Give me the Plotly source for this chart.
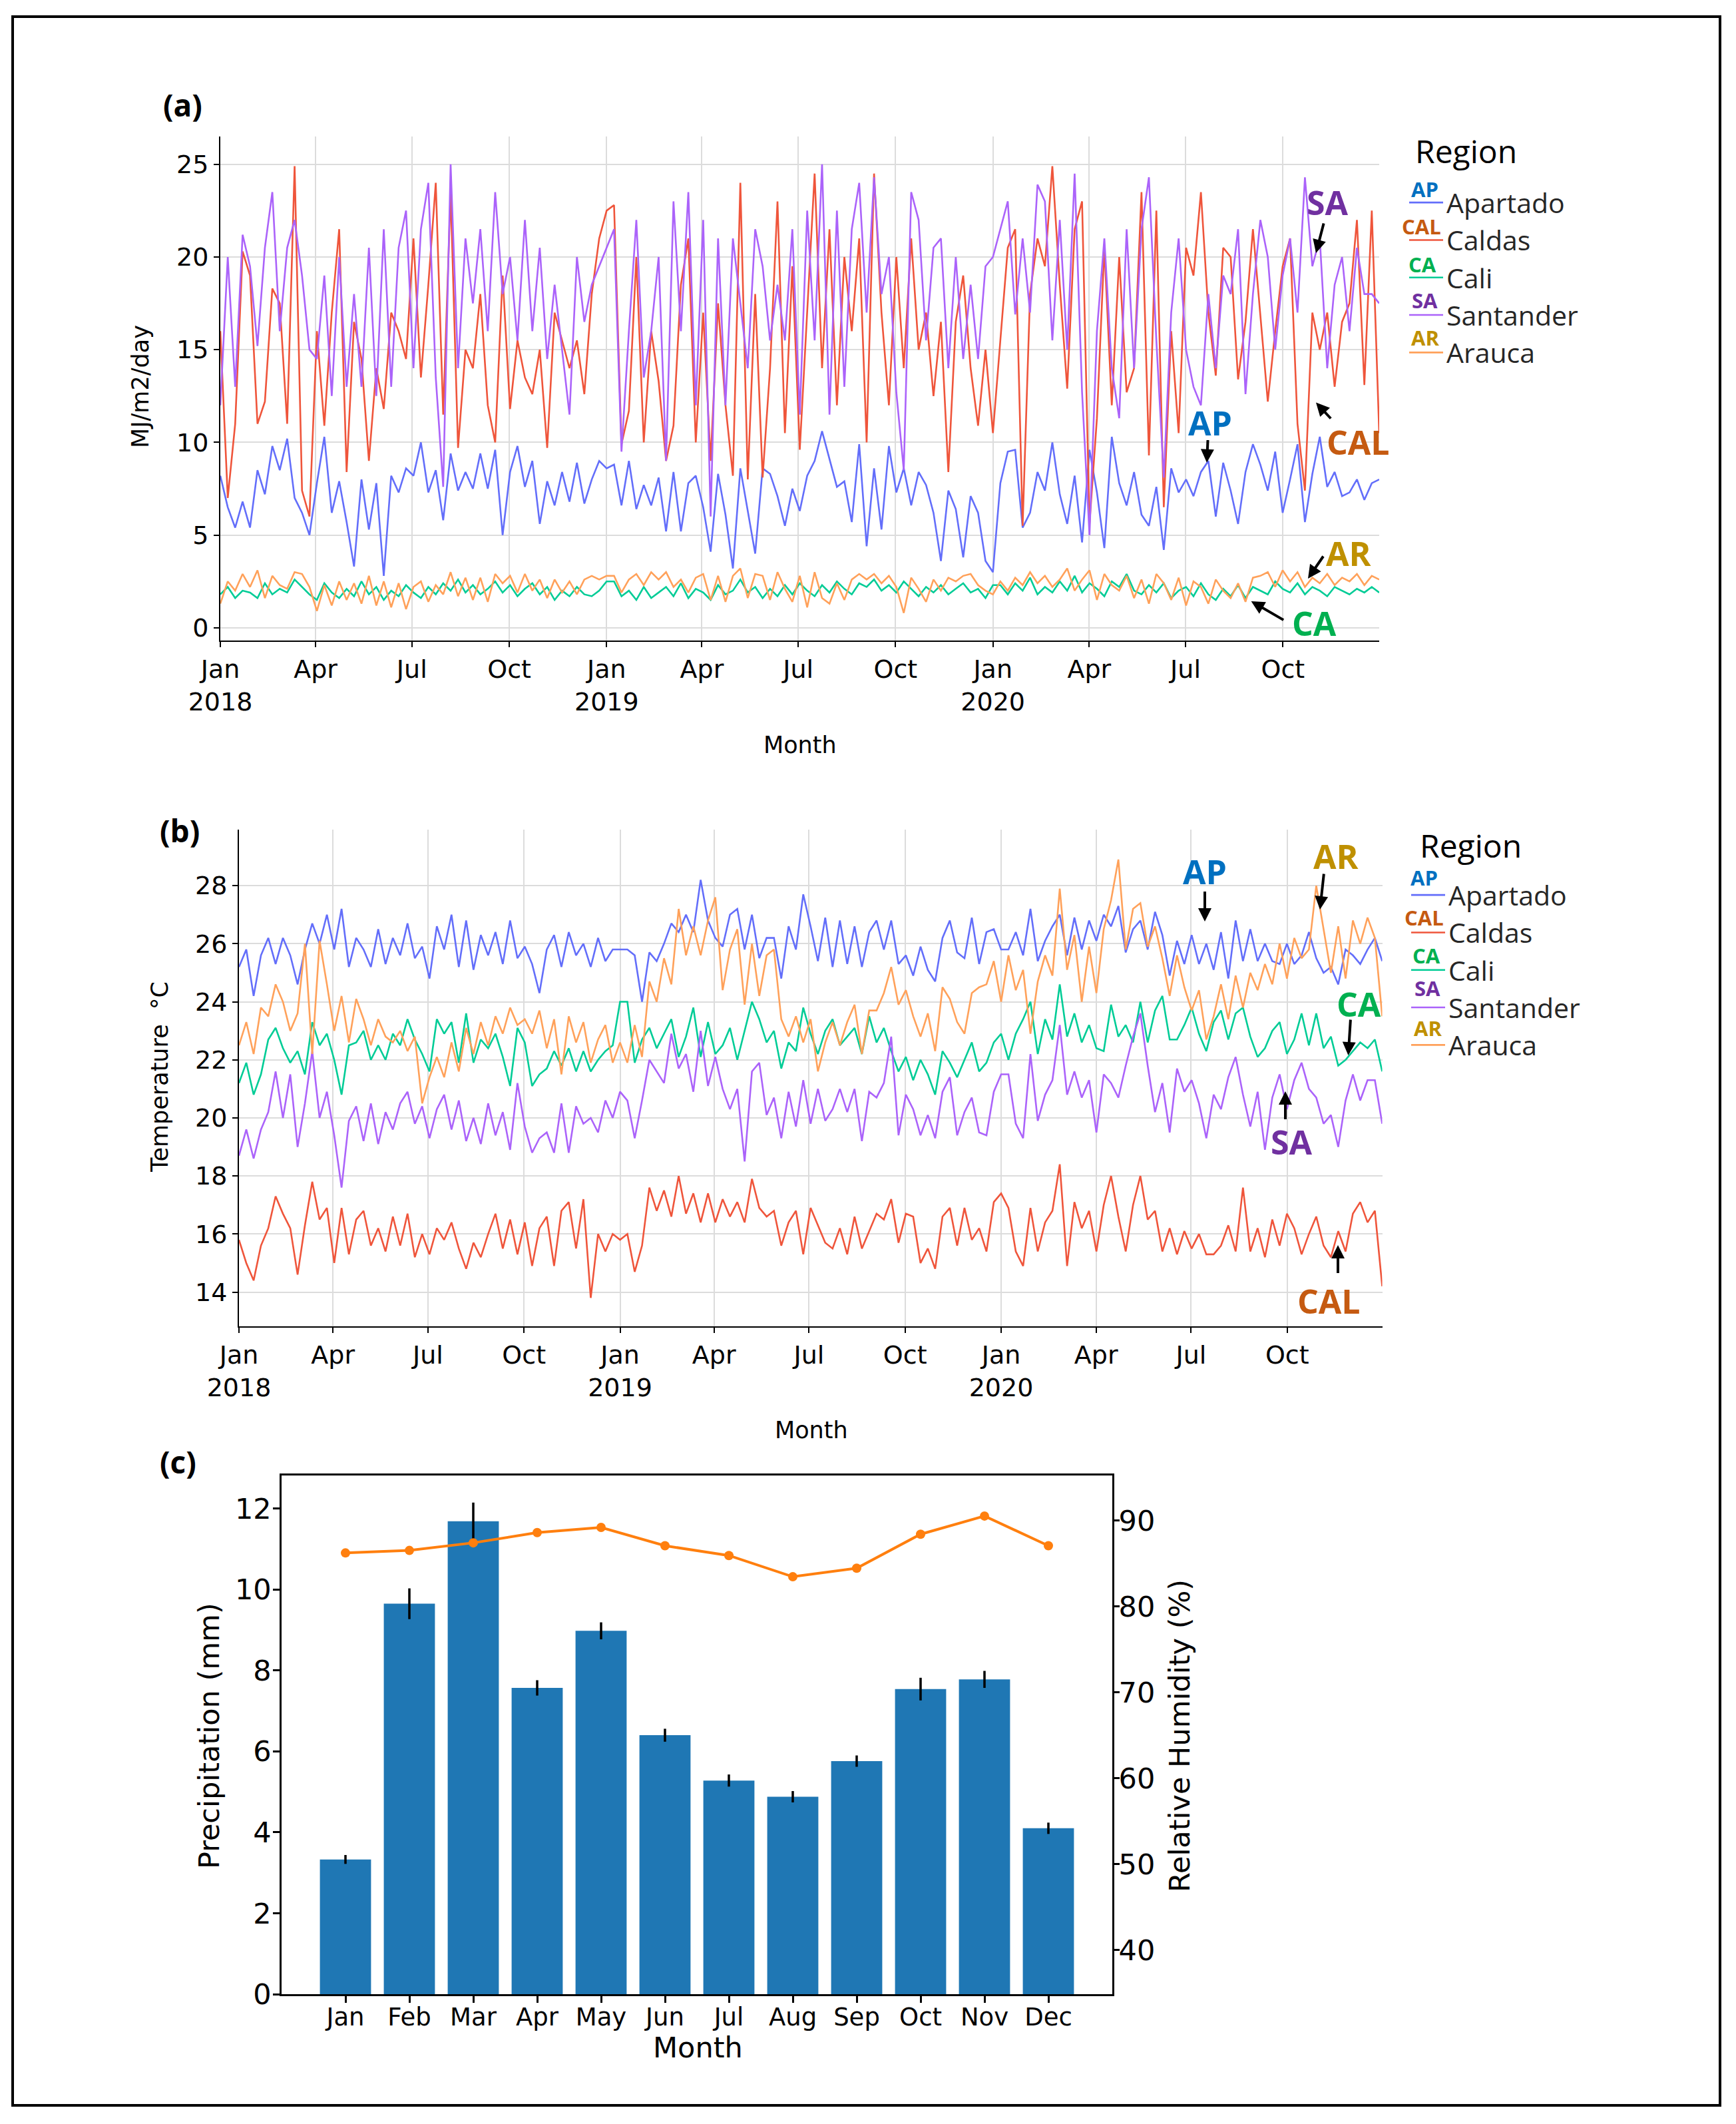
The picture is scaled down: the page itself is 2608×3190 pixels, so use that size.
import pandas as pd
import plotly.graph_objects as go

W, H = 2608, 3190
OFF = 8                      # the page body adds an 8px margin; compensate for it
FW, FH = W - OFF, H - OFF


def px(x):
    return (x - OFF) / FW


def py(y):
    return 1 - (y - OFF) / FH


# ---------------- data -----------------
regions = ["Apartado", "Caldas", "Cali", "Santander", "Arauca"]
line_colors = ["#636EFA", "#EF553B", "#00CC96", "#AB63FA", "#FFA15A"]
abbrevs = ["AP", "CAL", "CA", "SA", "AR"]
abbrev_colors = ["#0070C0", "#C55A11", "#00B050", "#7030A0", "#BF9000"]

# (a) solar radiation, MJ/m2/day, approx. weekly readings 2018-2020
ap_rad_2018 = [8.2, 6.5, 5.4, 6.8, 5.4, 8.5, 7.2, 9.8, 8.5, 10.2, 7.0, 6.2, 5.0, 7.8, 10.3, 6.2, 7.9, 5.7, 3.3, 8.0, 5.3, 7.8, 2.8, 8.2, 7.3, 8.6, 8.2, 10.0, 7.3, 8.5, 5.8, 9.4, 7.4, 8.4, 7.5, 9.4, 7.5, 9.6, 5.0, 8.4, 9.8, 7.6, 9.0, 5.6, 7.9, 6.6, 8.4, 6.8, 8.9, 6.7, 8.0, 9.0, 8.6]
ap_rad_2019 = [8.8, 6.6, 9.0, 6.4, 7.7, 6.6, 8.1, 5.2, 8.4, 5.2, 7.8, 8.2, 6.5, 4.1, 8.3, 6.1, 3.2, 8.6, 6.3, 4.0, 8.6, 8.3, 7.1, 5.5, 7.5, 6.3, 8.2, 9.0, 10.6, 9.1, 7.6, 7.9, 5.7, 9.9, 4.4, 8.6, 5.3, 9.8, 7.3, 8.6, 6.6, 8.4, 7.7, 6.2, 3.6, 7.4, 6.4, 3.8, 7.1, 6.2, 3.6, 3.0]
ap_rad_2020 = [7.8, 9.5, 9.6, 5.4, 6.2, 8.4, 7.4, 10.0, 7.2, 5.6, 8.2, 4.6, 9.6, 7.3, 4.3, 10.3, 7.8, 6.6, 8.4, 6.1, 5.5, 7.6, 4.2, 8.6, 7.3, 8.0, 7.1, 8.4, 9.0, 6.0, 8.9, 7.4, 5.6, 8.4, 9.9, 8.8, 7.4, 9.5, 6.2, 8.0, 9.9, 5.7, 8.3, 10.3, 7.6, 8.4, 7.1, 7.3, 8.0, 6.9, 7.8, 8.0]

cal_rad_2018 = [16.0, 7.0, 11.0, 20.3, 19.0, 11.0, 12.2, 18.3, 17.5, 11.0, 24.9, 7.4, 6.0, 16.0, 10.9, 17.0, 21.5, 8.4, 16.5, 14.5, 9.0, 14.0, 11.8, 17.0, 16.0, 14.5, 21.0, 13.5, 18.5, 24.0, 11.5, 23.5, 9.7, 15.0, 14.0, 18.0, 12.0, 10.0, 19.0, 11.8, 15.5, 13.5, 12.6, 15.0, 9.7, 17.0, 15.5, 14.0, 15.5, 12.6, 18.0, 21.0, 22.5]
cal_rad_2019 = [22.8, 9.9, 11.7, 20.0, 10.0, 16.0, 13.3, 9.0, 10.9, 18.5, 21.0, 10.0, 17.0, 9.0, 17.5, 12.0, 8.2, 24.0, 8.0, 18.0, 8.1, 14.0, 23.0, 10.5, 19.5, 9.6, 17.0, 24.5, 14.0, 21.5, 12.0, 20.0, 16.0, 21.0, 10.0, 24.5, 17.0, 12.0, 20.0, 14.0, 21.0, 15.0, 17.0, 12.5, 16.5, 8.4, 16.5, 19.0, 14.0, 10.9, 15.0, 10.5]
cal_rad_2020 = [15.5, 20.5, 21.5, 5.5, 18.0, 21.0, 19.5, 24.9, 18.5, 12.9, 21.5, 23.0, 5.6, 11.3, 20.5, 12.0, 20.0, 12.7, 14.0, 23.5, 9.3, 22.5, 6.5, 16.0, 10.5, 20.5, 19.0, 23.5, 17.0, 13.6, 20.5, 20.0, 13.4, 16.5, 21.5, 17.0, 12.2, 16.0, 19.5, 21.0, 11.0, 7.4, 17.0, 15.0, 17.0, 13.0, 16.5, 17.5, 22.0, 13.1, 22.5, 10.5]

ca_rad_2018 = [1.8, 2.2, 1.6, 2.0, 1.9, 1.6, 2.4, 1.8, 2.1, 1.9, 2.6, 2.2, 1.8, 1.5, 2.4, 1.9, 1.6, 2.1, 1.7, 2.5, 1.8, 2.2, 1.5, 2.0, 1.7, 2.3, 1.9, 1.6, 2.2, 1.8, 2.4, 2.0, 2.6, 1.9, 2.3, 1.8, 2.1, 2.5, 1.9, 2.3, 1.7, 2.1, 2.4, 1.8, 2.2, 1.5, 2.0, 1.7, 2.2, 1.8, 1.7, 2.0, 2.5]
ca_rad_2019 = [2.5, 1.7, 2.0, 1.5, 2.2, 1.6, 1.9, 2.2, 1.7, 2.4, 1.6, 2.1, 1.9, 1.5, 2.3, 1.8, 2.0, 2.6, 1.9, 2.2, 1.6, 2.1, 1.7, 2.3, 1.8, 2.4, 2.0, 1.7, 2.3, 1.9, 2.5, 2.1, 1.8, 2.4, 2.2, 2.6, 2.0, 2.3, 1.9, 2.5, 2.1, 1.7, 2.2, 1.9, 2.3, 1.8, 2.1, 2.4, 1.9, 2.1, 1.6, 2.3]
ca_rad_2020 = [2.3, 1.8, 2.4, 2.0, 2.7, 1.8, 2.2, 1.9, 2.5, 2.0, 2.8, 1.9, 2.4, 2.1, 1.7, 2.5, 2.2, 2.9, 2.0, 1.8, 2.3, 1.9, 2.4, 1.6, 2.0, 2.2, 1.7, 2.4, 1.8, 1.5, 2.1, 1.7, 2.3, 1.6, 2.2, 2.0, 1.8, 2.5, 2.1, 1.9, 2.4, 1.8, 2.2, 2.0, 1.7, 2.2, 2.0, 1.8, 2.1, 1.9, 2.2, 1.9]

sa_rad_2018 = [12.0, 20.0, 13.0, 21.2, 19.5, 15.2, 20.5, 23.5, 16.0, 20.5, 22.0, 19.0, 15.0, 14.5, 19.0, 12.5, 20.0, 13.0, 18.0, 13.0, 20.5, 12.5, 21.5, 13.0, 20.5, 22.5, 14.0, 21.5, 24.0, 13.5, 7.6, 25.0, 14.0, 21.0, 17.5, 21.5, 16.0, 23.5, 18.0, 20.0, 15.5, 22.0, 16.0, 20.5, 14.5, 18.5, 15.0, 11.5, 20.0, 16.5, 18.5, 19.5, 20.5]
sa_rad_2019 = [21.5, 9.5, 16.0, 22.0, 13.5, 16.0, 20.0, 9.0, 23.0, 16.0, 23.5, 12.0, 22.0, 6.0, 21.0, 12.0, 21.0, 17.5, 14.0, 21.5, 19.5, 15.5, 18.5, 15.5, 21.5, 11.5, 22.5, 15.5, 25.0, 11.5, 22.5, 13.0, 21.5, 24.0, 17.0, 24.3, 18.0, 20.0, 12.7, 8.5, 23.5, 22.0, 15.5, 20.5, 21.0, 14.0, 20.0, 14.5, 18.5, 14.5, 19.5, 20.0]
sa_rad_2020 = [21.5, 23.0, 16.9, 21.0, 17.0, 23.9, 23.0, 15.5, 22.0, 15.0, 24.5, 12.7, 5.0, 16.0, 21.0, 14.0, 11.3, 21.5, 14.0, 21.5, 24.3, 15.5, 8.1, 17.0, 21.0, 15.0, 13.0, 12.0, 18.0, 14.0, 19.0, 18.0, 21.5, 12.6, 18.0, 22.0, 20.0, 15.0, 19.0, 21.0, 17.0, 24.3, 19.5, 21.0, 14.0, 18.5, 20.0, 16.0, 20.5, 18.0, 18.0, 17.5]

ar_rad_2018 = [1.3, 2.5, 2.0, 2.9, 2.2, 3.1, 1.6, 2.8, 2.3, 2.1, 3.0, 2.9, 2.2, 0.9, 2.3, 1.2, 2.5, 1.5, 2.4, 1.3, 2.8, 1.2, 2.5, 1.1, 2.4, 1.0, 2.2, 2.5, 1.4, 2.3, 1.8, 3.0, 1.7, 2.7, 1.5, 2.7, 1.4, 2.9, 2.4, 2.8, 1.9, 2.9, 2.0, 2.6, 1.6, 2.6, 1.9, 2.5, 1.8, 2.6, 2.8, 2.6, 2.8]
ar_rad_2019 = [2.8, 1.9, 2.6, 2.9, 2.3, 3.0, 2.6, 3.0, 2.2, 2.6, 1.9, 2.7, 2.9, 1.5, 2.8, 1.4, 2.8, 3.2, 1.6, 2.9, 2.8, 1.5, 3.0, 2.1, 1.4, 2.8, 1.1, 3.0, 1.6, 1.3, 2.4, 1.5, 2.6, 2.9, 2.6, 2.9, 2.4, 2.8, 2.2, 0.8, 2.7, 2.1, 1.4, 2.6, 2.0, 2.7, 2.5, 2.8, 2.9, 2.3, 2.0, 1.8]
ar_rad_2020 = [2.5, 2.0, 2.7, 2.3, 3.0, 2.4, 2.8, 2.2, 2.6, 3.2, 2.0, 2.6, 3.1, 1.5, 2.9, 2.3, 2.0, 2.8, 1.6, 2.6, 1.3, 2.9, 2.4, 1.5, 2.7, 1.2, 2.5, 2.2, 1.3, 2.6, 2.0, 1.6, 2.4, 1.4, 2.7, 2.8, 3.0, 2.2, 3.1, 2.5, 3.0, 2.2, 2.7, 2.4, 2.9, 2.3, 2.7, 2.5, 2.9, 2.3, 2.8, 2.6]

# (b) temperature, deg C, approx. weekly readings 2018-2020
ap_temp_2018 = [25.2, 25.8, 24.2, 25.6, 26.2, 25.3, 26.2, 25.6, 24.6, 25.8, 26.7, 26.0, 27.0, 25.8, 27.2, 25.2, 26.2, 25.8, 25.2, 26.5, 25.3, 26.2, 25.6, 26.7, 25.5, 25.9, 24.8, 26.6, 25.8, 27.0, 25.2, 26.8, 25.1, 26.3, 25.6, 26.4, 25.3, 26.8, 25.5, 25.9, 25.3, 24.3, 25.8, 26.3, 25.2, 26.4, 25.6, 26.0, 25.2, 26.2, 25.4, 25.8, 25.8]
ap_temp_2019 = [25.8, 25.6, 24.0, 25.7, 25.4, 26.0, 26.7, 26.4, 27.0, 26.4, 28.2, 26.8, 26.2, 25.9, 27.0, 27.2, 25.8, 27.0, 25.5, 26.2, 26.2, 24.8, 26.6, 25.8, 27.7, 26.6, 25.4, 26.9, 25.2, 26.8, 25.3, 26.6, 25.2, 26.4, 26.8, 25.8, 26.8, 25.3, 25.6, 24.9, 25.9, 25.1, 24.7, 26.2, 26.8, 25.7, 25.5, 26.9, 25.3, 26.4, 26.5, 25.8]
ap_temp_2020 = [25.8, 26.4, 25.6, 27.2, 25.4, 26.1, 26.6, 27.0, 25.6, 26.9, 25.8, 26.8, 26.1, 27.0, 26.6, 27.3, 25.7, 26.5, 26.8, 25.8, 27.1, 26.3, 24.9, 26.1, 25.3, 26.3, 25.3, 26.0, 25.1, 26.4, 24.8, 26.8, 25.4, 26.5, 25.4, 26.0, 25.4, 25.3, 26.0, 25.3, 25.6, 26.4, 25.5, 25.0, 25.2, 24.6, 25.8, 25.6, 25.3, 25.8, 26.2, 25.4]

cal_temp_2018 = [15.8, 15.0, 14.4, 15.6, 16.2, 17.3, 16.7, 16.2, 14.6, 16.3, 17.8, 16.5, 16.9, 15.0, 16.9, 15.3, 16.5, 16.8, 15.6, 16.2, 15.4, 16.6, 15.6, 16.7, 15.2, 16.0, 15.3, 16.2, 15.8, 16.4, 15.5, 14.8, 15.7, 15.2, 16.0, 16.7, 15.5, 16.5, 15.3, 16.4, 14.9, 16.2, 16.6, 14.9, 16.8, 17.1, 15.5, 17.2, 13.8, 16.0, 15.4, 16.0, 15.8]
cal_temp_2019 = [16.0, 14.7, 15.6, 17.6, 16.8, 17.5, 16.6, 18.0, 16.7, 17.4, 16.4, 17.4, 16.4, 17.2, 16.6, 17.1, 16.4, 17.9, 16.9, 16.6, 16.8, 15.6, 16.4, 16.8, 15.3, 16.9, 16.3, 15.7, 15.5, 16.2, 15.3, 16.6, 15.5, 16.1, 16.7, 16.5, 17.2, 15.7, 16.7, 16.6, 15.0, 15.5, 14.8, 16.6, 16.9, 15.6, 16.9, 15.8, 16.2, 15.4, 17.1, 17.4]
cal_temp_2020 = [16.9, 15.4, 14.9, 16.9, 15.4, 16.4, 16.8, 18.4, 14.9, 17.1, 16.2, 16.8, 15.4, 17.0, 18.0, 16.6, 15.4, 17.0, 18.0, 16.5, 16.8, 15.4, 16.2, 15.3, 16.1, 15.5, 16.0, 15.3, 15.3, 15.6, 16.3, 15.4, 17.6, 15.4, 16.2, 15.2, 16.5, 15.6, 16.7, 16.2, 15.3, 16.0, 16.6, 15.6, 15.2, 16.1, 15.4, 16.7, 17.1, 16.4, 16.8, 14.2]

ca_temp_2018 = [21.2, 21.9, 20.8, 21.5, 22.7, 23.1, 22.4, 21.9, 22.3, 21.5, 23.3, 22.5, 22.9, 22.0, 20.8, 22.5, 22.6, 23.0, 22.0, 22.5, 22.0, 22.9, 22.5, 23.4, 22.7, 22.2, 21.6, 23.4, 22.9, 23.3, 21.9, 23.6, 21.9, 22.7, 22.4, 22.9, 22.1, 21.1, 23.1, 22.6, 21.1, 21.5, 21.7, 22.3, 21.8, 22.4, 21.6, 22.3, 21.6, 22.0, 22.3, 22.5, 24.0]
ca_temp_2019 = [24.0, 21.9, 22.7, 23.1, 22.4, 22.9, 23.4, 22.1, 22.8, 23.8, 22.1, 23.3, 22.2, 22.5, 23.1, 22.0, 23.0, 24.0, 23.4, 22.6, 23.0, 21.7, 22.6, 22.3, 23.8, 22.9, 22.2, 23.0, 23.4, 22.5, 22.8, 23.1, 22.2, 23.5, 22.6, 23.1, 22.3, 21.6, 22.1, 21.3, 22.0, 21.5, 20.8, 22.3, 21.9, 21.4, 22.0, 22.6, 21.6, 21.9, 22.6, 22.9]
ca_temp_2020 = [22.0, 22.9, 23.4, 24.0, 22.2, 23.4, 22.7, 24.6, 22.8, 23.6, 22.6, 23.2, 22.4, 22.3, 23.9, 22.8, 23.2, 22.6, 24.0, 22.6, 23.7, 24.2, 22.7, 22.7, 23.2, 23.8, 22.9, 22.3, 23.3, 23.7, 22.7, 23.6, 23.8, 22.8, 22.1, 22.4, 23.0, 23.3, 22.2, 22.7, 23.6, 22.5, 23.6, 22.4, 22.8, 21.8, 22.0, 22.3, 22.6, 22.4, 22.7, 21.6]

sa_temp_2018 = [18.7, 19.6, 18.6, 19.6, 20.2, 21.6, 20.0, 21.5, 19.0, 20.5, 22.3, 20.0, 20.9, 19.4, 17.6, 19.9, 20.4, 19.2, 20.5, 19.1, 20.2, 19.6, 20.5, 20.9, 19.8, 20.4, 19.3, 20.3, 20.8, 19.6, 20.6, 19.2, 20.0, 19.1, 20.5, 19.4, 20.2, 18.9, 21.2, 19.7, 18.8, 19.3, 19.5, 18.8, 20.5, 18.8, 20.4, 19.8, 20.0, 19.5, 20.6, 20.0, 20.9]
sa_temp_2019 = [20.6, 19.3, 20.6, 22.0, 21.6, 21.2, 22.9, 21.7, 22.2, 20.9, 23.0, 21.1, 22.1, 21.0, 20.3, 21.0, 18.5, 21.6, 21.9, 20.1, 20.7, 19.3, 20.9, 19.7, 21.3, 19.8, 21.0, 19.9, 20.3, 21.0, 20.2, 21.0, 19.2, 20.9, 20.7, 21.2, 22.8, 19.4, 20.8, 20.3, 19.4, 20.1, 19.3, 20.9, 21.4, 19.4, 20.2, 20.7, 19.5, 19.4, 20.9, 21.5]
sa_temp_2020 = [21.5, 19.8, 19.3, 22.2, 19.9, 20.8, 21.3, 23.2, 20.8, 21.6, 20.7, 21.3, 19.5, 21.5, 21.2, 20.7, 21.8, 22.8, 23.6, 21.8, 20.2, 21.2, 19.5, 21.7, 20.9, 21.3, 20.5, 19.3, 20.8, 20.3, 21.4, 22.1, 20.8, 19.7, 20.9, 18.9, 20.7, 21.5, 20.3, 21.3, 21.9, 21.0, 20.7, 19.8, 20.1, 19.0, 20.6, 21.5, 20.6, 21.3, 21.3, 19.8]

ar_temp_2018 = [22.5, 23.3, 22.2, 23.8, 23.5, 24.6, 24.0, 23.0, 23.6, 26.0, 22.2, 26.1, 24.6, 23.0, 24.2, 22.6, 24.1, 23.4, 22.5, 23.4, 22.8, 22.6, 23.0, 22.3, 22.8, 20.5, 21.4, 22.1, 21.4, 22.6, 21.6, 23.1, 22.2, 23.3, 22.5, 23.5, 22.9, 23.8, 23.2, 23.4, 22.9, 23.7, 22.4, 23.4, 21.5, 23.5, 22.6, 23.3, 21.9, 22.7, 23.2, 21.9, 22.6]
ar_temp_2019 = [21.9, 23.2, 22.1, 24.7, 24.0, 25.5, 24.6, 27.2, 25.6, 26.6, 25.6, 26.8, 27.6, 24.4, 25.8, 26.5, 23.9, 26.0, 24.2, 25.6, 25.8, 23.4, 22.8, 23.5, 22.6, 23.4, 21.6, 22.6, 23.3, 22.5, 23.3, 23.9, 22.2, 23.7, 23.7, 24.3, 25.2, 23.9, 24.4, 23.5, 22.8, 23.6, 22.3, 24.5, 24.1, 23.3, 22.9, 24.3, 24.5, 24.6, 25.4, 24.0]
ar_temp_2020 = [25.6, 24.4, 25.1, 22.9, 24.7, 25.6, 24.9, 27.9, 25.1, 26.3, 24.0, 25.9, 24.3, 26.5, 27.5, 28.9, 25.8, 27.2, 27.4, 25.9, 26.6, 25.5, 24.2, 25.6, 24.5, 23.7, 24.4, 22.7, 23.5, 24.6, 23.4, 24.9, 23.8, 25.0, 24.4, 25.3, 24.6, 26.0, 24.8, 26.2, 25.5, 25.8, 28.0, 26.5, 25.0, 26.6, 24.8, 26.8, 26.0, 26.9, 26.2, 23.5]

# (c) monthly precipitation and relative humidity
months = ["Jan", "Feb", "Mar", "Apr", "May", "Jun", "Jul", "Aug", "Sep", "Oct", "Nov", "Dec"]
precip_mm = [3.33, 9.65, 11.69, 7.57, 8.98, 6.40, 5.28, 4.88, 5.76, 7.54, 7.78, 4.10]
precip_err = [0.11, 0.38, 0.46, 0.19, 0.21, 0.16, 0.15, 0.14, 0.14, 0.28, 0.21, 0.14]
humidity_pct = [86.25, 86.54, 87.43, 88.62, 89.22, 87.09, 85.95, 83.48, 84.47, 88.43, 90.55, 87.09]

tick_dates = ["2018-01-01", "2018-04-01", "2018-07-01", "2018-10-01",
              "2019-01-01", "2019-04-01", "2019-07-01", "2019-10-01",
              "2020-01-01", "2020-04-01", "2020-07-01", "2020-10-01"]
tick_text = ["Jan<br>2018", "Apr", "Jul", "Oct", "Jan<br>2019", "Apr", "Jul", "Oct",
             "Jan<br>2020", "Apr", "Jul", "Oct"]

radiation = [ap_rad_2018 + ap_rad_2019 + ap_rad_2020,
             cal_rad_2018 + cal_rad_2019 + cal_rad_2020,
             ca_rad_2018 + ca_rad_2019 + ca_rad_2020,
             sa_rad_2018 + sa_rad_2019 + sa_rad_2020,
             ar_rad_2018 + ar_rad_2019 + ar_rad_2020]
temperature = [ap_temp_2018 + ap_temp_2019 + ap_temp_2020,
               cal_temp_2018 + cal_temp_2019 + cal_temp_2020,
               ca_temp_2018 + ca_temp_2019 + ca_temp_2020,
               sa_temp_2018 + sa_temp_2019 + sa_temp_2020,
               ar_temp_2018 + ar_temp_2019 + ar_temp_2020]

# ---------------- figure -----------------
fig = go.Figure()

for name, col, vals in zip(regions, line_colors, radiation):
    d = pd.date_range("2018-01-01", "2020-12-31", periods=len(vals))
    fig.add_trace(go.Scatter(x=d, y=vals, mode="lines", name=name,
                             line=dict(color=col, width=2.6),
                             xaxis="x", yaxis="y", legend="legend"))

for name, col, vals in zip(regions, line_colors, temperature):
    d = pd.date_range("2018-01-01", "2020-12-31", periods=len(vals))
    fig.add_trace(go.Scatter(x=d, y=vals, mode="lines", name=name,
                             line=dict(color=col, width=2.6),
                             xaxis="x2", yaxis="y2", legend="legend2"))

month_idx = list(range(1, 13))
fig.add_trace(go.Bar(x=month_idx, y=precip_mm, width=0.8, marker=dict(color="#1f77b4", line=dict(width=0)),
                     error_y=dict(type="data", array=precip_err, color="black", thickness=3.5, width=0),
                     xaxis="x3", yaxis="y3", showlegend=False))
fig.add_trace(go.Scatter(x=month_idx, y=humidity_pct, mode="lines+markers",
                         line=dict(color="#ff7f0e", width=4), marker=dict(color="#ff7f0e", size=14),
                         xaxis="x3", yaxis="y4", showlegend=False))

tick_font = dict(family="DejaVu Sans", size=38, color="black")
ts_axis = dict(showline=True, linecolor="black", linewidth=2, ticks="outside", ticklen=8,
               tickwidth=2, tickcolor="black", showgrid=True, gridcolor="#dcdcdc", gridwidth=2,
               zeroline=False, tickfont=tick_font, automargin=False)

mpl_axis = dict(showline=True, linecolor="black", linewidth=2.5, ticks="outside", ticklen=10,
                tickwidth=2.5, tickcolor="black", showgrid=False, zeroline=False, automargin=False)
mpl_xfont = dict(family="DejaVu Sans", size=37, color="black")
mpl_yfont = dict(family="DejaVu Sans", size=43, color="black")

fig.update_layout(
    width=FW, height=FH,
    margin=dict(l=0, r=0, t=0, b=0, autoexpand=False),
    paper_bgcolor="white", plot_bgcolor="white",
    xaxis=dict(ts_axis, domain=[px(331), px(2072)], anchor="y", type="date",
               range=["2018-01-01", "2020-12-31"], tickvals=tick_dates, ticktext=tick_text),
    yaxis=dict(ts_axis, domain=[py(962), py(205)], anchor="x", range=[-0.69, 26.5],
               tickvals=[0, 5, 10, 15, 20, 25]),
    xaxis2=dict(ts_axis, domain=[px(359), px(2076.5)], anchor="y2", type="date",
                range=["2018-01-01", "2020-12-31"], tickvals=tick_dates, ticktext=tick_text),
    yaxis2=dict(ts_axis, domain=[py(1992), py(1246)], anchor="x2", range=[12.82, 29.93],
                tickvals=[14, 16, 18, 20, 22, 24, 26, 28]),
    xaxis3=dict(mpl_axis, domain=[px(423), px(1671)], anchor="y3", range=[0, 13],
                tickvals=month_idx, ticktext=months, mirror=True, tickfont=mpl_xfont,
                ticklabelstandoff=-10),
    yaxis3=dict(mpl_axis, domain=[py(2995), py(2216)], anchor="x3", range=[0, 12.82],
                tickvals=[0, 2, 4, 6, 8, 10, 12], mirror=True, tickfont=mpl_yfont,
                ticklabelstandoff=-6),
    yaxis4=dict(mpl_axis, overlaying="y3", side="right", anchor="x3", range=[34.88, 95.27],
                tickvals=[40, 50, 60, 70, 80, 90], showline=False, tickfont=mpl_yfont,
                ticklabelstandoff=-10),
    legend=dict(x=px(2112), y=py(271), xanchor="left", yanchor="top",
                font=dict(family="Open Sans", size=41, color="#262626"),
                bgcolor="rgba(0,0,0,0)", itemwidth=51, tracegroupgap=0),
    legend2=dict(x=px(2115), y=py(1311), xanchor="left", yanchor="top",
                 font=dict(family="Open Sans", size=41, color="#262626"),
                 bgcolor="rgba(0,0,0,0)", itemwidth=51, tracegroupgap=0),
)

ann = []


def text_ann(x, y, text, size, color="black", family="DejaVu Sans", angle=0, xanchor="center"):
    ann.append(dict(xref="paper", yref="paper", x=px(x), y=py(y), text=text, showarrow=False,
                    xanchor=xanchor, yanchor="middle", textangle=angle,
                    font=dict(family=family, size=size, color=color)))


def arrow_ann(tx, ty, hx, hy):
    ann.append(dict(xref="paper", yref="paper", x=px(hx), y=py(hy), ax=tx - hx, ay=ty - hy,
                    axref="pixel", ayref="pixel", text="", showarrow=True, arrowhead=2,
                    arrowsize=1, arrowwidth=4, arrowcolor="black", standoff=0, startstandoff=0))


# panel labels
text_ann(274, 157, "<b>(a)</b>", 46, family="Open Sans")
text_ann(269.5, 1247, "<b>(b)</b>", 46, family="Open Sans")
text_ann(267, 2195, "<b>(c)</b>", 46, family="Open Sans")

# axis titles
text_ann(211, 581, "MJ/m2/day", 35, angle=-90)
text_ann(1202, 1119, "Month", 35)
text_ann(240, 1617, "Temperature  °C", 35, angle=-90)
text_ann(1219, 2148, "Month", 35)
text_ann(314, 2607, "Precipitation (mm)", 43, angle=-90)
text_ann(1772, 2607, "Relative Humidity (%)", 43, angle=-90)
text_ann(1048, 3075, "Month", 43)

# legend titles and abbreviations
text_ann(2124, 226, "Region", 48, family="Open Sans", xanchor="left")
text_ann(2131, 1269, "Region", 48, family="Open Sans", xanchor="left")
leg_a_pos = [(2140, 284), (2135, 340), (2137, 397), (2140, 451), (2141, 507)]
leg_b_pos = [(2139, 1318), (2139, 1378), (2143, 1435), (2144, 1484), (2145, 1544)]
for (x, y), ab, c in zip(leg_a_pos, abbrevs, abbrev_colors):
    text_ann(x, y, "<b>" + ab + "</b>", 31, color=c, family="Open Sans")
for (x, y), ab, c in zip(leg_b_pos, abbrevs, abbrev_colors):
    text_ann(x, y, "<b>" + ab + "</b>", 31, color=c, family="Open Sans")

# in-plot labels
lab_a = {"SA": (1994, 304.5), "CAL": (2040, 664), "AP": (1818, 635), "AR": (2025.6, 831), "CA": (1974, 936)}
arr_a = [(1989, 334, 1977, 380), (2000.6, 630, 1977, 604.5), (1814.6, 659.5, 1813, 694.7),
         (1989, 834, 1965, 869), (1929.7, 932, 1879.6, 903)]
lab_b = {"AP": (1810, 1309), "AR": (2007, 1286), "CA": (2041, 1508), "SA": (1940.5, 1715), "CAL": (1996, 1954)}
arr_b = [(1810, 1337.5, 1810, 1384), (1989, 1311, 1983, 1366), (2029, 1530, 2025.5, 1585),
         (1931, 1682.5, 1931, 1639), (2010, 1913.5, 2010, 1870)]
col_of = dict(zip(abbrevs, abbrev_colors))
for lab in (lab_a, lab_b):
    for k, (x, y) in lab.items():
        text_ann(x, y, "<b>" + k + "</b>", 50, color=col_of[k], family="Open Sans")
for a in arr_a + arr_b:
    arrow_ann(*a)

fig.update_layout(annotations=ann)

# outer frame
fig.add_shape(type="rect", xref="paper", yref="paper", x0=px(19), x1=px(2584), y0=py(3162), y1=py(25),
              line=dict(color="black", width=4), fillcolor="rgba(0,0,0,0)", layer="above")

fig.write_html("out.html")
